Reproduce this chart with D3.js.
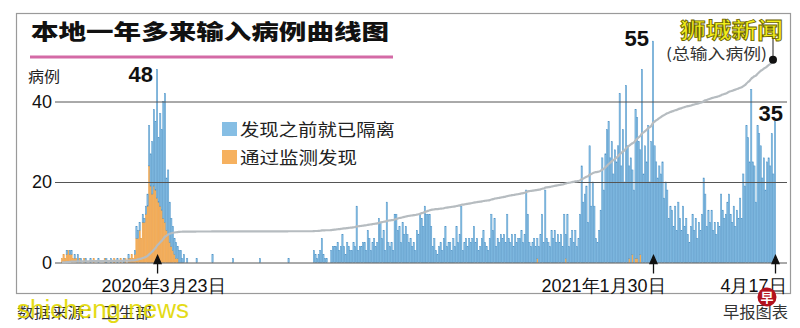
<!DOCTYPE html>
<html>
<head>
<meta charset="utf-8">
<script src="https://cdn.jsdelivr.net/npm/d3@7"></script>
<style>
body { margin: 0; background: #fff; }
svg { display: block; font-family: "Liberation Sans", "Noto Sans CJK SC", sans-serif; }
</style>
</head>
<body>
<div id="container"></div>
<script>
// daily imported cases, from 2020-01-23 to 2021-04-17 (one value per day)
var firstDay = new Date(2020, 0, 23);

// 发现之前就已隔离 (isolated before detection)
var isolated = [
  0,0,0,1,0,1,1,0,1,0,  2,0,1,0,0,1,0,0,1,0,  0,0,0,1,0,0,0,0,1,0,
  0,1,0,0,0,1,0,0,0,1,  0,0,1,0,0,0,1,3,2,2,  0,2,1,2,3,10,8,13,19,17,
  32,16,23,20,29,32,13,16,10,7,  6,4,4,3,3,3,1,2,0,1,  0,0,0,0,0,1,0,0,0,0,
  0,0,0,0,0,2,0,0,0,0,  0,0,0,0,0,0,0,0,1,0,  0,0,0,0,0,0,0,0,0,0,
  0,0,0,0,0,1,0,0,0,0,  0,0,0,0,0,0,0,0,0,0,  0,0,0,1,0,0,0,0,0,0,
  0,0,0,0,0,0,0,0,0,3,  2,1,2,3,6,2,1,1,0,0,  3,4,4,4,5,3,4,7,4,2,
  5,4,3,3,5,4,14,3,4,4,  5,5,3,8,6,3,5,6,4,5,  11,10,6,8,3,15,5,4,5,3,
  12,12,8,9,5,10,7,9,7,5,  6,4,5,3,8,7,12,11,9,14,  12,12,12,9,4,6,3,2,4,5,
  3,6,9,4,5,5,3,6,4,9,  5,7,14,3,5,6,4,6,5,6,  9,5,6,3,4,6,8,5,4,3,
  6,12,8,11,4,6,5,7,6,7,  5,12,6,5,7,4,7,5,6,6,  8,5,7,18,12,5,4,5,6,4,
  5,4,7,12,5,18,6,5,4,8,  6,8,5,7,5,7,4,12,6,12,  4,6,8,5,8,4,6,12,24,15,
  17,19,10,29,14,20,14,6,5,8,  13,26,18,27,33,35,26,30,22,28,  25,29,42,24,33,20,44,29,23,26,
  21,18,37,35,30,26,48,22,29,25,  34,20,30,55,29,25,21,24,22,25,  16,20,18,11,14,13,9,14,8,15,
  11,8,14,9,11,7,5,9,12,8,  11,6,10,8,12,21,17,9,13,10,  13,8,10,7,10,9,17,13,11,12,
  15,17,12,10,14,9,13,11,16,11,  22,19,34,31,25,43,25,24,15,34,  32,29,21,26,18,25,26,24,32,22,
  35
];

// 通过监测发现 (found through surveillance)
var surveillance = [
  1,2,1,2,3,2,2,1,1,1,  0,1,0,0,1,0,0,0,0,0,  1,0,0,0,0,0,0,1,0,0,
  0,0,0,1,0,0,0,1,0,0,  1,0,1,1,2,1,2,6,6,8,  6,10,10,12,14,24,19,17,19,18,
  16,15,14,13,11,10,8,7,5,4,  3,2,1,1,0,0,0,0,0,0,  0,0,0,0,0,0,0,0,0,0,
  0,0,0,0,0,0,0,0,0,0,  0,0,0,0,0,0,0,0,0,0,  0,0,0,0,0,0,0,0,0,0,
  0,0,0,0,0,0,0,0,0,0,  0,0,0,0,0,0,0,0,0,0,  0,0,0,0,0,0,0,0,0,0,
  0,0,0,0,0,0,0,0,0,0,  0,0,0,0,0,0,0,0,0,0,  0,0,0,0,0,0,0,0,0,0,
  0,0,0,0,0,0,0,0,0,0,  0,0,0,0,0,0,0,0,0,0,  0,0,0,0,0,0,0,0,0,0,
  0,0,0,0,0,0,0,0,0,0,  0,0,0,0,0,0,0,0,0,0,  0,0,0,0,0,0,0,0,0,0,
  0,0,0,0,0,0,0,0,0,0,  0,0,0,0,0,0,0,0,0,0,  0,0,0,0,0,0,0,0,0,0,
  0,0,0,0,0,0,0,0,0,0,  0,0,0,0,0,0,0,0,0,0,  0,0,0,0,0,0,0,0,0,0,
  1,0,0,0,0,0,0,0,0,0,  0,0,0,0,0,0,0,0,1,0,  0,0,0,0,0,0,0,0,0,0,
  0,0,0,0,0,0,0,0,0,0,  0,0,0,0,0,0,0,0,0,0,  0,0,0,0,0,0,0,0,1,0,
  2,0,1,1,0,2,0,0,0,0,  0,0,0,0,0,0,0,0,0,0,  0,0,0,0,0,0,0,0,0,0,
  0,0,0,0,0,0,0,0,0,0,  0,0,0,0,0,0,0,0,0,0,  0,0,0,0,0,0,0,0,0,0,
  0,0,0,0,0,0,0,0,0,0,  0,0,0,0,0,0,0,0,0,0,  0,0,0,0,0,0,0,0,0,0,
  0
];

var seriesKeys = ['surveillance', 'isolated'];
var seriesNames = ['发现之前就已隔离', '通过监测发现'];
var yTicks = [0, 20, 40];
var markDates = [new Date(2020, 2, 23), new Date(2021, 0, 30), new Date(2021, 3, 17)];
var markLabels = ['2020年3月23日', '2021年1月30日', '4月17日'];
var peakDates = [new Date(2020, 2, 23), new Date(2021, 0, 30), new Date(2021, 3, 17)];

var w = 800, h = 328;
var blue = '#86bee4', blueEdge = '#4d92c6', orange = '#f6b15f', orangeEdge = '#e89a3c';

var days = isolated.map(function(v, i) {
  return { date: d3.timeDay.offset(firstDay, i), isolated: v, surveillance: surveillance[i] };
});
days.forEach(function(d) { d.total = d.isolated + d.surveillance; });
var running = d3.cumsum(days, d => d.total);
days.forEach(function(d, i) { d.cum = running[i]; });

var svg = d3.select('#container').append('svg')
  .attr('width', w).attr('height', h);

/* frame + title */
svg.append('rect').attr('x', 16.5).attr('y', 13.5).attr('width', 774).attr('height', 280)
  .attr('fill', 'none').attr('stroke', '#9a9a9a').attr('stroke-width', 1.2);

svg.append('text').attr('x', 31).attr('y', 39)
  .attr('font-family', '"Noto Sans CJK SC", sans-serif').attr('font-weight', 900)
  .attr('font-size', 21).attr('textLength', 358).attr('lengthAdjust', 'spacingAndGlyphs')
  .attr('fill', '#111').text('本地一年多来输入病例曲线图');
svg.append('line').attr('x1', 30).attr('x2', 393).attr('y1', 57).attr('y2', 57)
  .attr('stroke', '#d46aa6').attr('stroke-width', 3);

/* scales */
var xScale = d3.scaleTime()
  .domain([firstDay, days[days.length - 1].date])
  .range([62, 775]);
var yScale = d3.scaleLinear().domain([0, 40]).range([262.5, 101.5]);
var yTotal = d3.scaleLinear()
  .domain([0, d3.max(days, d => d.cum)])
  .range([yScale(0), yScale(50.4)]);

var bw = 1.3;

/* stacked bars */
var stacked = d3.stack().keys(seriesKeys)(days);
var colors = { surveillance: [orange, orangeEdge], isolated: [blue, blueEdge] };
var barGroup = svg.append('g').classed('bars', true);
stacked.forEach(function(layer) {
  barGroup.append('g')
    .attr('fill', colors[layer.key][0])
    .attr('stroke', colors[layer.key][1])
    .attr('stroke-width', 0.45)
    .selectAll('rect')
    .data(layer.filter(d => d[1] > d[0]))
    .enter().append('rect')
      .attr('x', d => xScale(d.data.date) - bw / 2)
      .attr('width', bw)
      .attr('y', d => yScale(d[1]))
      .attr('height', d => yScale(d[0]) - yScale(d[1]));
});

/* y axis with gridlines */
var yAxis = d3.axisLeft(yScale).tickValues(yTicks).tickSize(-(787 - 55)).tickPadding(3);
var yg = svg.append('g').attr('transform', 'translate(55,0)').call(yAxis);
yg.select('.domain').remove();
yg.selectAll('.tick line').attr('stroke', '#555').attr('stroke-width', 1);
yg.selectAll('.tick text').attr('font-size', 18).attr('fill', '#111')
  .attr('font-family', '"Liberation Sans", Arial, sans-serif');

svg.append('text').attr('x', 28).attr('y', 82)
  .attr('font-family', '"Noto Sans CJK SC", sans-serif')
  .attr('font-size', 15).attr('textLength', 32).attr('lengthAdjust', 'spacingAndGlyphs')
  .attr('fill', '#222').text('病例');

/* cumulative total line */
var totalLine = d3.line()
  .x(d => xScale(d.date))
  .y(d => yTotal(d.cum))
  .curve(d3.curveMonotoneX);
svg.append('path').datum(days)
  .attr('d', totalLine)
  .attr('fill', 'none').attr('stroke', '#b6bcc0').attr('stroke-width', 2.2);

var last = days[days.length - 1];
svg.append('line')
  .attr('x1', xScale(last.date) - 2).attr('x2', xScale(last.date) - 2)
  .attr('y1', yTotal(last.cum)).attr('y2', 36)
  .attr('stroke', '#222').attr('stroke-width', 1);
svg.append('circle')
  .attr('cx', xScale(last.date) - 2).attr('cy', yTotal(last.cum)).attr('r', 4)
  .attr('fill', '#111');
svg.append('text')
  .attr('x', xScale(last.date) - 8).attr('y', yTotal(last.cum) - 1)
  .attr('text-anchor', 'end')
  .attr('font-family', '"Noto Sans CJK SC", sans-serif')
  .attr('font-size', 15).attr('textLength', 101).attr('lengthAdjust', 'spacingAndGlyphs')
  .attr('fill', '#333').text('(总输入病例)');

/* peak labels */
var peakOffsets = [{dx: -4, dy: 13, anchor: 'end'}, {dx: -4, dy: 5, anchor: 'end'}, {dx: 8, dy: -1, anchor: 'end'}];
peakDates.forEach(function(pd, i) {
  var d = days.find(e => +e.date === +pd);
  svg.append('text')
    .attr('x', xScale(d.date) + peakOffsets[i].dx)
    .attr('y', yScale(d.total) + peakOffsets[i].dy)
    .attr('text-anchor', peakOffsets[i].anchor)
    .attr('font-size', 22).attr('font-weight', 'bold').attr('fill', '#111')
    .text(d.total);
});

/* legend */
var legend = svg.append('g').attr('transform', 'translate(222,122)');
[blue, orange].forEach(function(c, i) {
  legend.append('rect').attr('x', 0).attr('y', i * 28).attr('width', 15).attr('height', 14)
    .attr('fill', c);
  legend.append('text').attr('x', 18).attr('y', i * 28 + 14)
    .attr('font-family', '"Noto Sans CJK SC", sans-serif')
    .attr('font-size', 17)
    .attr('textLength', i === 0 ? 155 : 117).attr('lengthAdjust', 'spacingAndGlyphs')
    .attr('fill', '#222').text(seriesNames[i]);
});

/* x marks: arrows and date labels */
var xAxis = d3.axisBottom(xScale).tickValues(markDates).tickSize(0).tickPadding(10)
  .tickFormat((d, i) => markLabels[i]);
var xg = svg.append('g').attr('transform', 'translate(0,' + (yScale(0) + 7) + ')').call(xAxis);
xg.select('.domain').remove();
var labelShift = [6, -50, -22];
xg.selectAll('.tick text')
  .attr('font-size', 18).attr('fill', '#111')
  .attr('dx', (d, i) => labelShift[i]);
xg.selectAll('.tick').append('path')
  .attr('d', 'M0,-14 L-3.5,-6 L3.5,-6 Z M0,-8 L0,4')
  .attr('fill', '#111').attr('stroke', '#111').attr('stroke-width', 1.3);

/* footer */
svg.append('text').attr('x', 17).attr('y', 318)
  .attr('font-family', '"Noto Sans CJK SC", sans-serif')
  .attr('font-size', 15).attr('textLength', 135).attr('lengthAdjust', 'spacingAndGlyphs')
  .attr('fill', '#333').text('数据来源：卫生部');
svg.append('text').attr('x', 788).attr('y', 318).attr('text-anchor', 'end')
  .attr('font-family', '"Noto Sans CJK SC", sans-serif')
  .attr('font-size', 16).attr('textLength', 65).attr('lengthAdjust', 'spacingAndGlyphs')
  .attr('fill', '#333').text('早报图表');
svg.append('circle').attr('cx', 767).attr('cy', 297).attr('r', 9.5).attr('fill', '#b3121e');
svg.append('text').attr('x', 767).attr('y', 302).attr('text-anchor', 'middle')
  .attr('font-family', '"Noto Sans CJK SC", sans-serif').attr('font-weight', 'bold')
  .attr('font-size', 13).attr('fill', '#fff').text('早');

/* watermarks */
svg.append('text').attr('x', 680).attr('y', 38)
  .attr('font-family', '"Noto Sans CJK SC", sans-serif').attr('font-weight', 'bold')
  .attr('font-size', 22).attr('textLength', 103).attr('lengthAdjust', 'spacingAndGlyphs')
  .attr('fill', '#f2ee1a').attr('stroke', '#6a6200').attr('stroke-width', 0.8)
  .text('狮城新闻');
svg.append('text').attr('x', 17).attr('y', 318)
  .attr('font-family', '"Liberation Sans", sans-serif')
  .attr('font-size', 25).attr('textLength', 172).attr('lengthAdjust', 'spacingAndGlyphs')
  .attr('fill', '#e2d800').attr('opacity', 0.9)
  .text('shicheng.news');
</script>
</body>
</html>
